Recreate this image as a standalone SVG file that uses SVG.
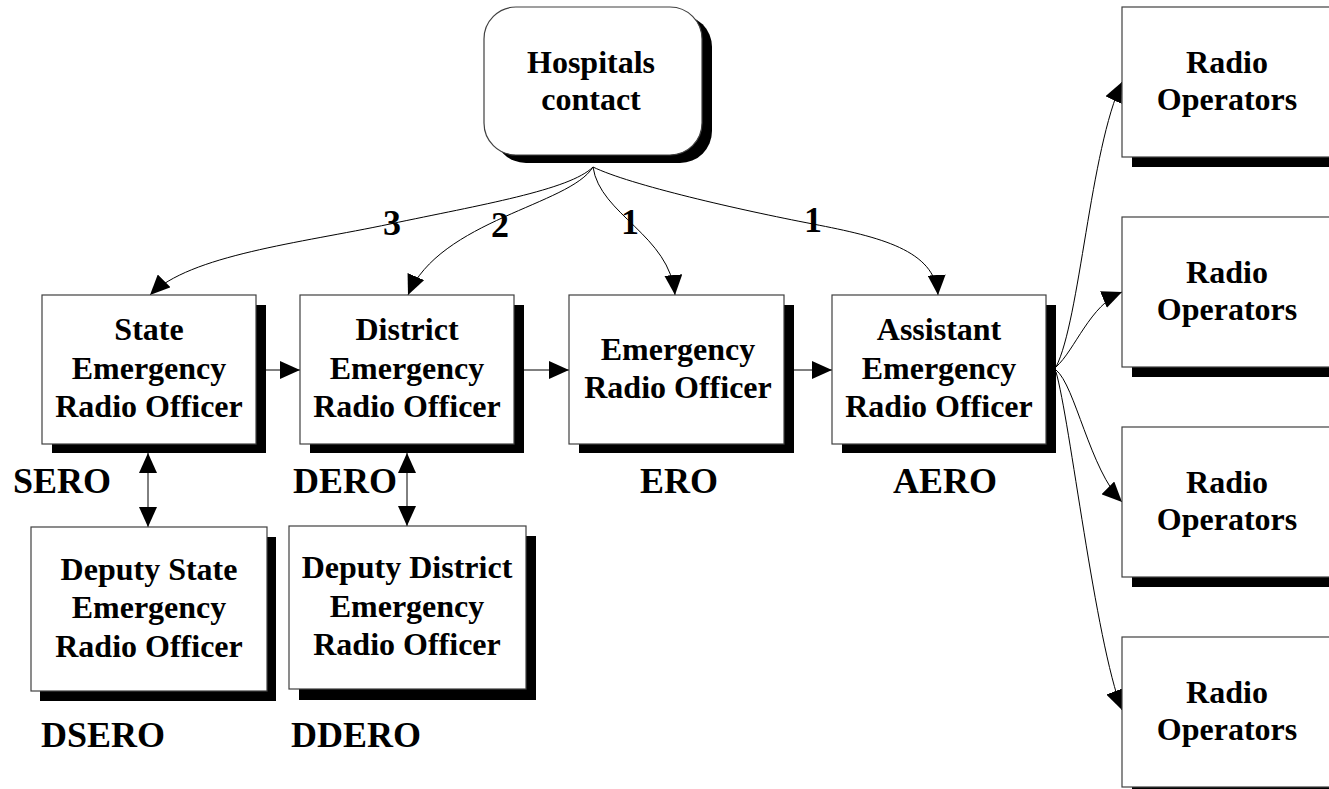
<svg xmlns="http://www.w3.org/2000/svg" width="1329" height="789" viewBox="0 0 1329 789">
<defs>
<style>
.box{fill:#fff;stroke:#404040;stroke-width:1.2}
.sh{fill:#000}
.t{font-family:"Liberation Serif","Times New Roman",serif;font-weight:bold;font-size:32px;fill:#000;text-anchor:middle}
.lb{font-family:"Liberation Serif","Times New Roman",serif;font-weight:bold;font-size:36px;fill:#000}
.c{fill:none;stroke:#000;stroke-width:1}
</style>
<marker id="ah" viewBox="0 0 20 18" refX="20" refY="9" markerWidth="20" markerHeight="18" markerUnits="userSpaceOnUse" orient="auto-start-reverse">
<path d="M0,0 L20,9 L0,18 z" fill="#000"/>
</marker>
</defs>
<rect width="1329" height="789" fill="#fff"/>

<g id="connectors">
<path class="c" d="M593,167 C570,190 480,205 390,224 C300,243 190,255 150,295" marker-end="url(#ah)"/>
<path class="c" d="M593,167 C570,205 440,220 408,295" marker-end="url(#ah)"/>
<path class="c" d="M593,167 C600,215 670,235 675,295" marker-end="url(#ah)"/>
<path class="c" d="M593,167 C630,185 740,210 813,224 C880,237 935,250 938,295" marker-end="url(#ah)"/>
<line class="c" x1="256" y1="370" x2="300" y2="370" marker-end="url(#ah)"/>
<line class="c" x1="514" y1="370" x2="569" y2="370" marker-end="url(#ah)"/>
<line class="c" x1="784" y1="370" x2="832" y2="370" marker-end="url(#ah)"/>
<line class="c" x1="148" y1="453" x2="148" y2="527" marker-start="url(#ah)" marker-end="url(#ah)"/>
<line class="c" x1="407" y1="453" x2="407" y2="526" marker-start="url(#ah)" marker-end="url(#ah)"/>
<path class="c" d="M1056,367 C1080,320 1090,150 1122,82" marker-end="url(#ah)"/>
<path class="c" d="M1056,367 C1075,350 1090,305 1122,292" marker-end="url(#ah)"/>
<path class="c" d="M1056,370 C1075,385 1090,470 1122,502" marker-end="url(#ah)"/>
<path class="c" d="M1056,372 C1070,420 1095,640 1122,710" marker-end="url(#ah)"/>
<text class="lb" x="392" y="235" text-anchor="middle">3</text>
<text class="lb" x="500" y="237" text-anchor="middle">2</text>
<text class="lb" x="630" y="234" text-anchor="middle">1</text>
<text class="lb" x="813" y="232" text-anchor="middle">1</text>
</g>

<g id="hospitals">
<rect class="sh" x="494" y="15" width="218" height="148" rx="32"/>
<rect class="box" x="484" y="7" width="218" height="148" rx="32"/>
<text class="t" x="591" y="73">Hospitals</text>
<text class="t" x="591" y="110">contact</text>
</g>

<g id="sero">
<rect class="sh" x="52" y="305" width="214" height="148"/>
<rect class="box" x="42" y="295" width="214" height="149"/>
<text class="t" x="149" y="340">State</text>
<text class="t" x="149" y="379">Emergency</text>
<text class="t" x="149" y="417">Radio Officer</text>
<text class="lb" x="13" y="493">SERO</text>
</g>

<g id="dero">
<rect class="sh" x="310" y="305" width="214" height="148"/>
<rect class="box" x="300" y="295" width="214" height="149"/>
<text class="t" x="407" y="340">District</text>
<text class="t" x="407" y="379">Emergency</text>
<text class="t" x="407" y="417">Radio Officer</text>
<text class="lb" x="293" y="493">DERO</text>
</g>

<g id="ero">
<rect class="sh" x="579" y="305" width="215" height="148"/>
<rect class="box" x="569" y="295" width="215" height="149"/>
<text class="t" x="678" y="360">Emergency</text>
<text class="t" x="678" y="398">Radio Officer</text>
<text class="lb" x="679" y="493" text-anchor="middle">ERO</text>
</g>

<g id="aero">
<rect class="sh" x="842" y="305" width="214" height="148"/>
<rect class="box" x="832" y="295" width="214" height="149"/>
<text class="t" x="939" y="340">Assistant</text>
<text class="t" x="939" y="379">Emergency</text>
<text class="t" x="939" y="417">Radio Officer</text>
<text class="lb" x="945" y="493" text-anchor="middle">AERO</text>
</g>

<g id="dsero">
<rect class="sh" x="40" y="537" width="236" height="164"/>
<rect class="box" x="31" y="527" width="236" height="164"/>
<text class="t" x="149" y="580">Deputy State</text>
<text class="t" x="149" y="618">Emergency</text>
<text class="t" x="149" y="657">Radio Officer</text>
<text class="lb" x="41" y="747">DSERO</text>
</g>

<g id="ddero">
<rect class="sh" x="299" y="536" width="237" height="164"/>
<rect class="box" x="289" y="526" width="237" height="163"/>
<text class="t" x="407" y="578">Deputy District</text>
<text class="t" x="407" y="617">Emergency</text>
<text class="t" x="407" y="655">Radio Officer</text>
<text class="lb" x="291" y="747">DDERO</text>
</g>

<g id="radio1">
<rect class="sh" x="1132" y="17" width="212" height="150"/>
<rect class="box" x="1122" y="7" width="212" height="150"/>
<text class="t" x="1227" y="73">Radio</text>
<text class="t" x="1227" y="110">Operators</text>
</g>
<g id="radio2">
<rect class="sh" x="1132" y="227" width="212" height="150"/>
<rect class="box" x="1122" y="217" width="212" height="150"/>
<text class="t" x="1227" y="283">Radio</text>
<text class="t" x="1227" y="320">Operators</text>
</g>
<g id="radio3">
<rect class="sh" x="1132" y="437" width="212" height="150"/>
<rect class="box" x="1122" y="427" width="212" height="150"/>
<text class="t" x="1227" y="493">Radio</text>
<text class="t" x="1227" y="530">Operators</text>
</g>
<g id="radio4">
<rect class="sh" x="1132" y="647" width="212" height="150"/>
<rect class="box" x="1122" y="637" width="212" height="150"/>
<text class="t" x="1227" y="703">Radio</text>
<text class="t" x="1227" y="740">Operators</text>
</g>
</svg>
